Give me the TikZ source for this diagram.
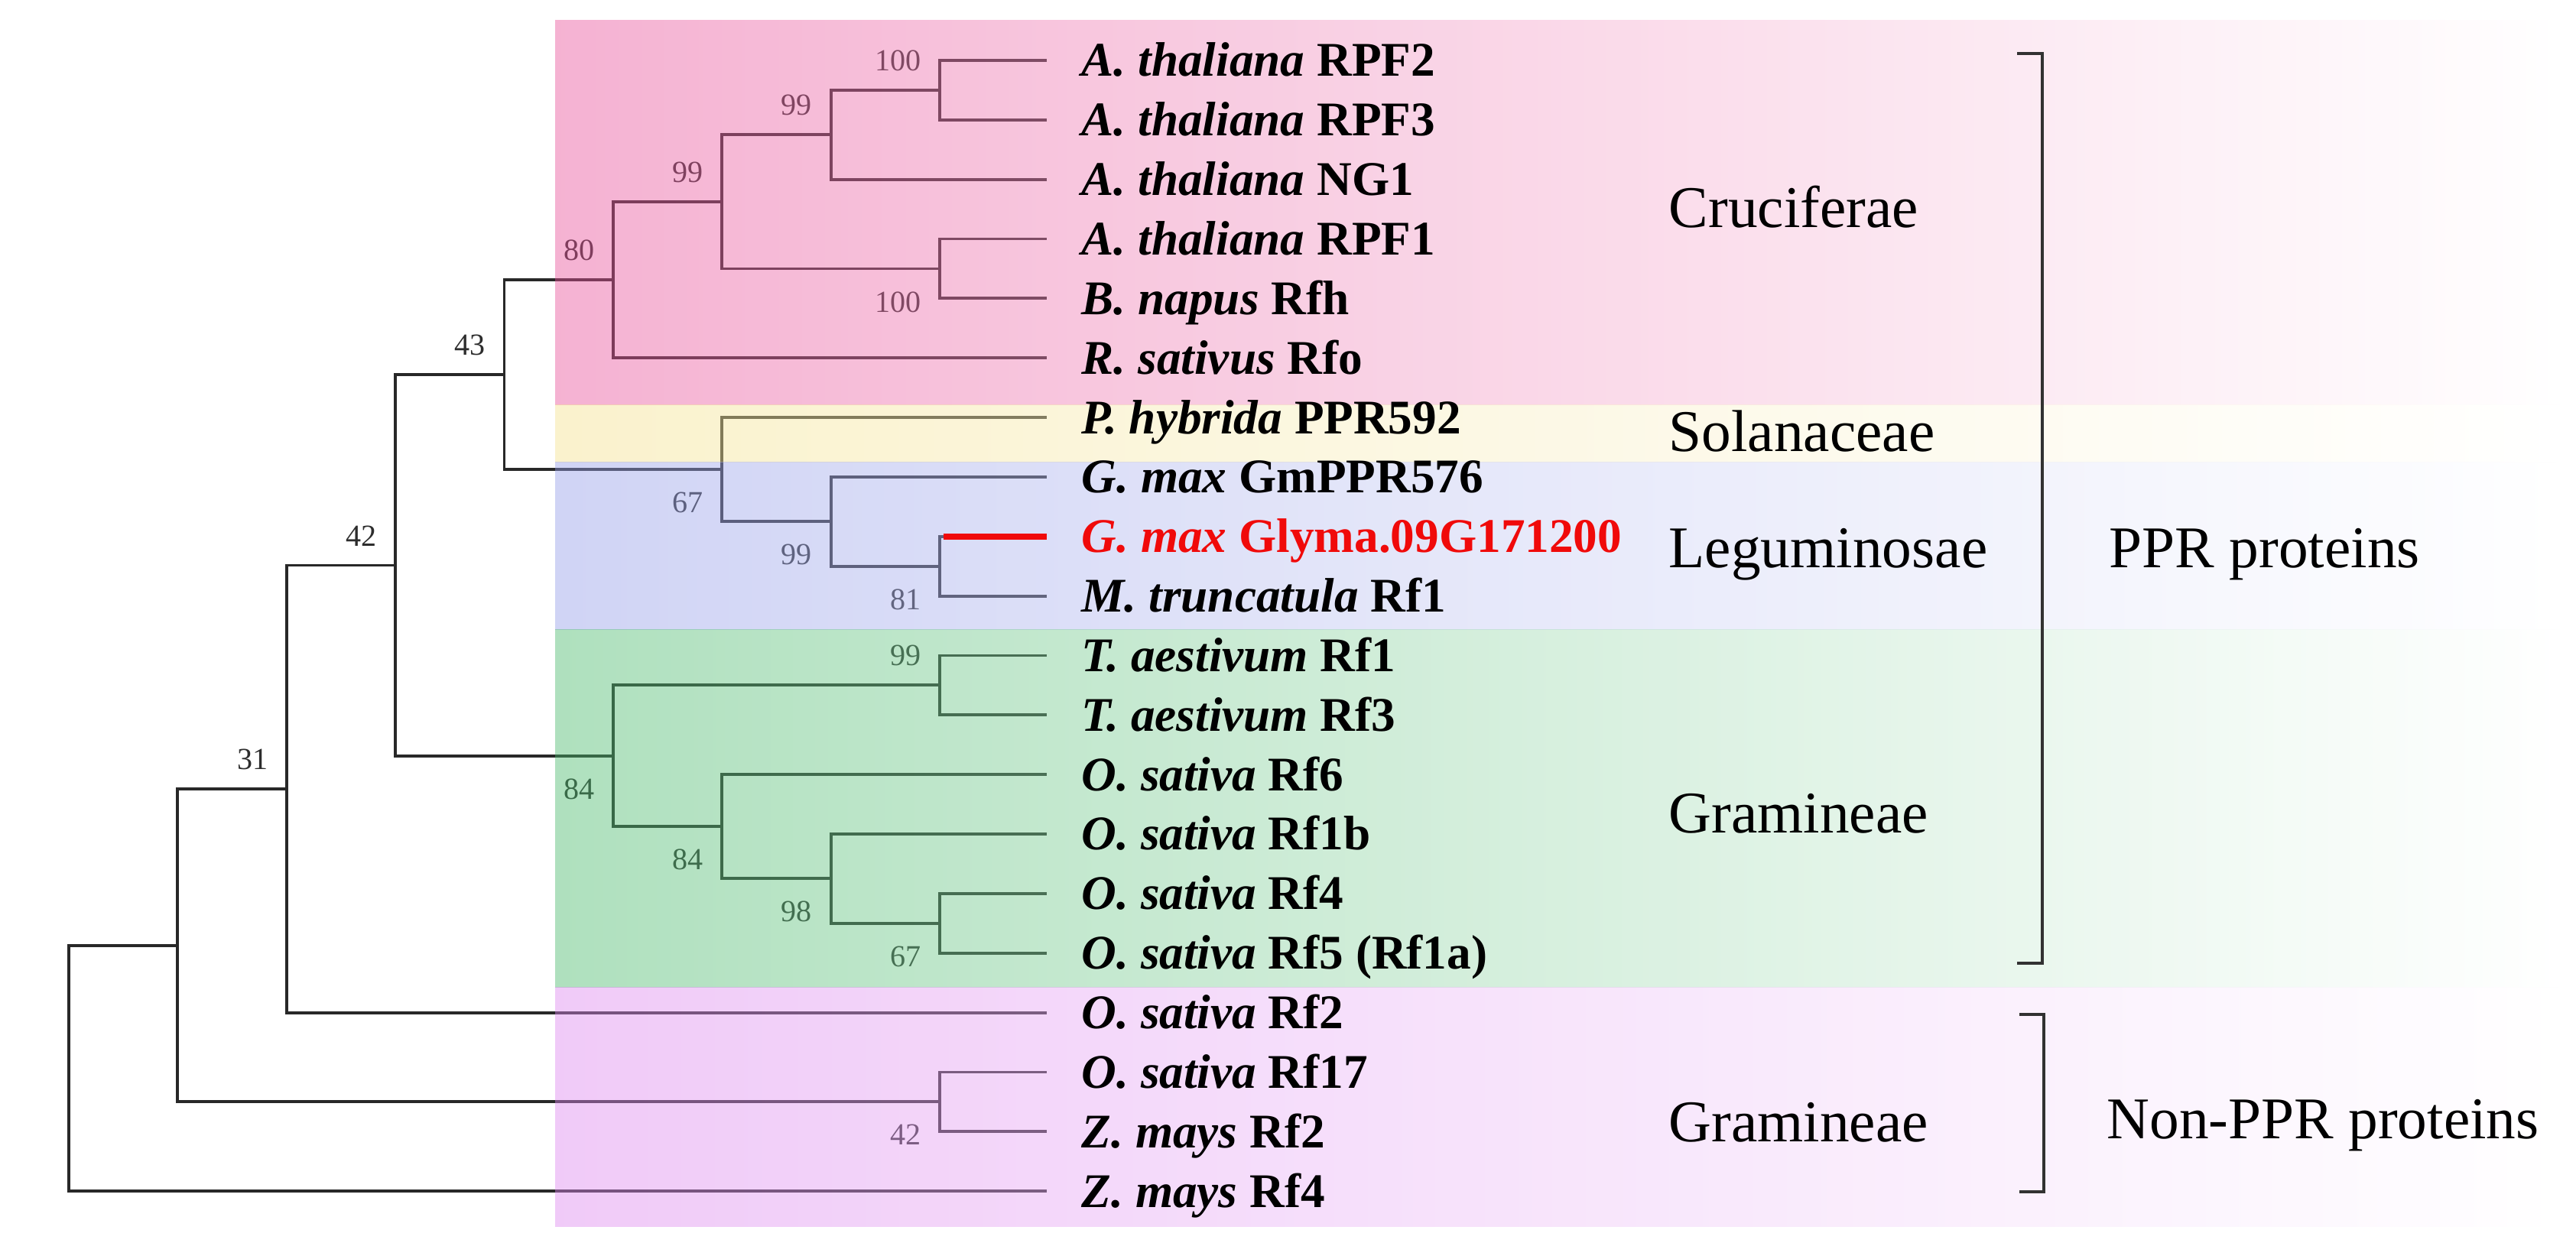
\documentclass[tikz,border=0pt]{standalone}
\usepackage{fontspec}
\setmainfont{Liberation Serif}
\usetikzlibrary{calc}
\pgfdeclarelayer{treelayer}
\pgfdeclarelayer{bandlayer}
\pgfsetlayers{treelayer,bandlayer,main}

\definecolor{treeline}{RGB}{40,40,40}
\definecolor{bootc}{RGB}{45,45,45}
\definecolor{pinkB}{RGB}{232,80,153}
\definecolor{yellowB}{RGB}{243,225,141}
\definecolor{blueB}{RGB}{148,157,232}
\definecolor{greenB}{RGB}{73,185,107}
\definecolor{purpleB}{RGB}{221,135,239}
\definecolor{bracketc}{RGB}{50,50,50}
\definecolor{hired}{RGB}{240,10,10}

\newcommand{\taxfont}{\fontsize{18pt}{20pt}\selectfont\bfseries}
\newcommand{\famfont}{\fontsize{22pt}{24pt}\selectfont}
\newcommand{\bootfont}{\fontsize{11.4pt}{12pt}\selectfont}

\tikzset{
  branch/.style={draw=treeline, line width=1.1pt},
  redbranch/.style={draw=hired, line width=2.2pt},
  brk/.style={draw=bracketc, line width=1.1pt},
  band/.style={fill opacity=0.44},
  taxon/.style={anchor=west, inner xsep=0.45cm, inner ysep=0pt, text height=11.9pt, text depth=0pt, font=\taxfont},
  fam/.style={anchor=west, inner sep=0pt, text height=14.6pt, text depth=0pt, font=\famfont},
  boot/.style={anchor=east, inner sep=0pt, text height=7.7pt, text depth=0pt, font=\bootfont, text=bootc},
}

\begin{document}
\begin{tikzpicture}
\useasboundingbox (0,0) rectangle (33.69,-16.26);

% ---------- leaves ----------
\node[taxon] (l0)  at (13.69,-0.790)  {\textit{A. thaliana} RPF2};
\node[taxon] (l1)  at (13.69,-1.5685) {\textit{A. thaliana} RPF3};
\node[taxon] (l2)  at (13.69,-2.347)  {\textit{A. thaliana} NG1};
\node[taxon] (l3)  at (13.69,-3.1255) {\textit{A. thaliana} RPF1};
\node[taxon] (l4)  at (13.69,-3.904)  {\textit{B. napus} Rfh};
\node[taxon] (l5)  at (13.69,-4.6825) {\textit{R. sativus} Rfo};
\node[taxon] (l6)  at (13.69,-5.461)  {\textit{P. hybrida} PPR592};
\node[taxon] (l7)  at (13.69,-6.2395) {\textit{G. max} GmPPR576};
\node[taxon, text=hired] (l8)  at (13.69,-7.018)  {\textit{G. max} Glyma.09G171200};
\node[taxon] (l9)  at (13.69,-7.7965) {\textit{M. truncatula} Rf1};
\node[taxon] (l10) at (13.69,-8.575)  {\textit{T. aestivum} Rf1};
\node[taxon] (l11) at (13.69,-9.3535) {\textit{T. aestivum} Rf3};
\node[taxon] (l12) at (13.69,-10.132) {\textit{O. sativa} Rf6};
\node[taxon] (l13) at (13.69,-10.9105){\textit{O. sativa} Rf1b};
\node[taxon] (l14) at (13.69,-11.689) {\textit{O. sativa} Rf4};
\node[taxon] (l15) at (13.69,-12.4675){\textit{O. sativa} Rf5 (Rf1a)};
\node[taxon] (l16) at (13.69,-13.246) {\textit{O. sativa} Rf2};
\node[taxon] (l17) at (13.69,-14.0245){\textit{O. sativa} Rf17};
\node[taxon] (l18) at (13.69,-14.803) {\textit{Z. mays} Rf2};
\node[taxon] (l19) at (13.69,-15.5815){\textit{Z. mays} Rf4};

% ---------- internal nodes ----------
\coordinate (nc4)  at (12.29,-1.179);
\coordinate (nc2)  at (10.867,-1.763);
\coordinate (nc3)  at (12.29,-3.515);
\coordinate (nc1)  at (9.443,-2.639);
\coordinate (ncr)  at (8.019,-3.661);
\coordinate (nlg2) at (12.29,-7.407);
\coordinate (nlg)  at (10.867,-6.823);
\coordinate (nsl)  at (9.443,-6.142);
\coordinate (n4)   at (6.595,-4.9015);
\coordinate (nt)   at (12.29,-8.964);
\coordinate (ng4)  at (12.29,-12.078);
\coordinate (ng3)  at (10.867,-11.494);
\coordinate (ng2)  at (9.443,-10.813);
\coordinate (ngr)  at (8.019,-9.889);
\coordinate (n3)   at (5.171,-7.395);
\coordinate (n2)   at (3.748,-10.321);
\coordinate (nzm)  at (12.29,-14.414);
\coordinate (n1)   at (2.324,-12.367);
\coordinate (root) at (0.90,-13.974);

% ---------- tree (under the coloured bands) ----------
\begin{pgfonlayer}{treelayer}
\draw[branch] (nc4) |- (l0.west);  \draw[branch] (nc4) |- (l1.west);
\draw[branch] (nc2) |- (nc4);      \draw[branch] (nc2) |- (l2.west);
\draw[branch] (nc3) |- (l3.west);  \draw[branch] (nc3) |- (l4.west);
\draw[branch] (nc1) |- (nc2);      \draw[branch] (nc1) |- (nc3);
\draw[branch] (ncr) |- (nc1);      \draw[branch] (ncr) |- (l5.west);
\draw[branch] (nlg2) |- (l8.west); \draw[branch] (nlg2) |- (l9.west);
\draw[branch] (nlg) |- (l7.west);  \draw[branch] (nlg) |- (nlg2);
\draw[branch] (nsl) |- (l6.west);  \draw[branch] (nsl) |- (nlg);
\draw[branch] (n4) |- (ncr);       \draw[branch] (n4) |- (nsl);
\draw[branch] (nt) |- (l10.west);  \draw[branch] (nt) |- (l11.west);
\draw[branch] (ng4) |- (l14.west); \draw[branch] (ng4) |- (l15.west);
\draw[branch] (ng3) |- (l13.west); \draw[branch] (ng3) |- (ng4);
\draw[branch] (ng2) |- (l12.west); \draw[branch] (ng2) |- (ng3);
\draw[branch] (ngr) |- (nt);       \draw[branch] (ngr) |- (ng2);
\draw[branch] (n3) |- (n4);        \draw[branch] (n3) |- (ngr);
\draw[branch] (n2) |- (n3);        \draw[branch] (n2) |- (l16.west);
\draw[branch] (nzm) |- (l17.west); \draw[branch] (nzm) |- (l18.west);
\draw[branch] (n1) |- (n2);        \draw[branch] (n1) |- (nzm);
\draw[branch] (root) |- (n1);      \draw[branch] (root) |- (l19.west);

% bootstrap values
\node[boot] (b-nc4)  at ($(nc4)+(-0.24,0.39)$)  {100};
\node[boot] (b-nc2)  at ($(nc2)+(-0.24,0.39)$)  {99};
\node[boot] (b-nc1)  at ($(nc1)+(-0.24,0.39)$)  {99};
\node[boot] (b-ncr)  at ($(ncr)+(-0.24,0.39)$)  {80};
\node[boot] (b-n4)   at ($(n4)+(-0.24,0.39)$)   {43};
\node[boot] (b-n3)   at ($(n3)+(-0.24,0.39)$)   {42};
\node[boot] (b-n2)   at ($(n2)+(-0.24,0.39)$)   {31};
\node[boot] (b-nt)   at ($(nt)+(-0.24,0.39)$)   {99};
\node[boot] (b-nc3)  at ($(nc3)+(-0.24,-0.43)$) {100};
\node[boot] (b-nsl)  at ($(nsl)+(-0.24,-0.43)$) {67};
\node[boot] (b-nlg)  at ($(nlg)+(-0.24,-0.43)$) {99};
\node[boot] (b-nlg2) at ($(nlg2)+(-0.24,-0.43)$) {81};
\node[boot] (b-ngr)  at ($(ngr)+(-0.24,-0.43)$) {84};
\node[boot] (b-ng2)  at ($(ng2)+(-0.24,-0.43)$) {84};
\node[boot] (b-ng3)  at ($(ng3)+(-0.24,-0.43)$) {98};
\node[boot] (b-ng4)  at ($(ng4)+(-0.24,-0.43)$) {67};
\node[boot] (b-nzm)  at ($(nzm)+(-0.24,-0.43)$) {42};
\end{pgfonlayer}

% ---------- coloured bands (translucent overlay) ----------
\begin{pgfonlayer}{bandlayer}
\shade[band, left color=pinkB,   right color=white] (7.26,-0.27) rectangle (33.55,-5.30);
\shade[band, left color=yellowB, right color=white] (7.26,-5.30) rectangle (33.55,-6.05);
\shade[band, left color=blueB,   right color=white] (7.26,-6.05) rectangle (33.55,-8.23);
\shade[band, left color=greenB,  right color=white] (7.26,-8.23) rectangle (33.55,-12.91);
\shade[band, left color=purpleB, right color=white] (7.26,-12.91) rectangle (33.55,-16.04);
\end{pgfonlayer}

% highlighted branch
\draw[redbranch] ($(nlg2 |- l8.west)+(0.05,0)$) -- (l8.west);

% ---------- family labels ----------
\node[fam] (fcru)  at (21.82,-2.72)  {Cruciferae};
\node[fam] (fsol)  at (21.82,-5.65)  {Solanaceae};
\node[fam] (fleg)  at (21.82,-7.17)  {Leguminosae};
\node[fam] (fgra)  at (21.82,-10.64) {Gramineae};
\node[fam] (fgra2) at (21.82,-14.68) {Gramineae};
\node[fam] (ppr)   at (27.58,-7.17)  {PPR proteins};
\node[fam] (nppr)  at (27.55,-14.64) {Non-PPR proteins};

% ---------- brackets ----------
\coordinate (bk1) at (26.38,-0.70);
\coordinate (bk2) at (26.71,-0.70);
\coordinate (bk3) at (26.71,-12.60);
\coordinate (bk4) at (26.38,-12.60);
\draw[brk] (bk1) -- (bk2) -- (bk3) -- (bk4);
\coordinate (bn1) at (26.41,-13.27);
\coordinate (bn2) at (26.73,-13.27);
\coordinate (bn3) at (26.73,-15.59);
\coordinate (bn4) at (26.41,-15.59);
\draw[brk] (bn1) -- (bn2) -- (bn3) -- (bn4);
\end{tikzpicture}
\end{document}
